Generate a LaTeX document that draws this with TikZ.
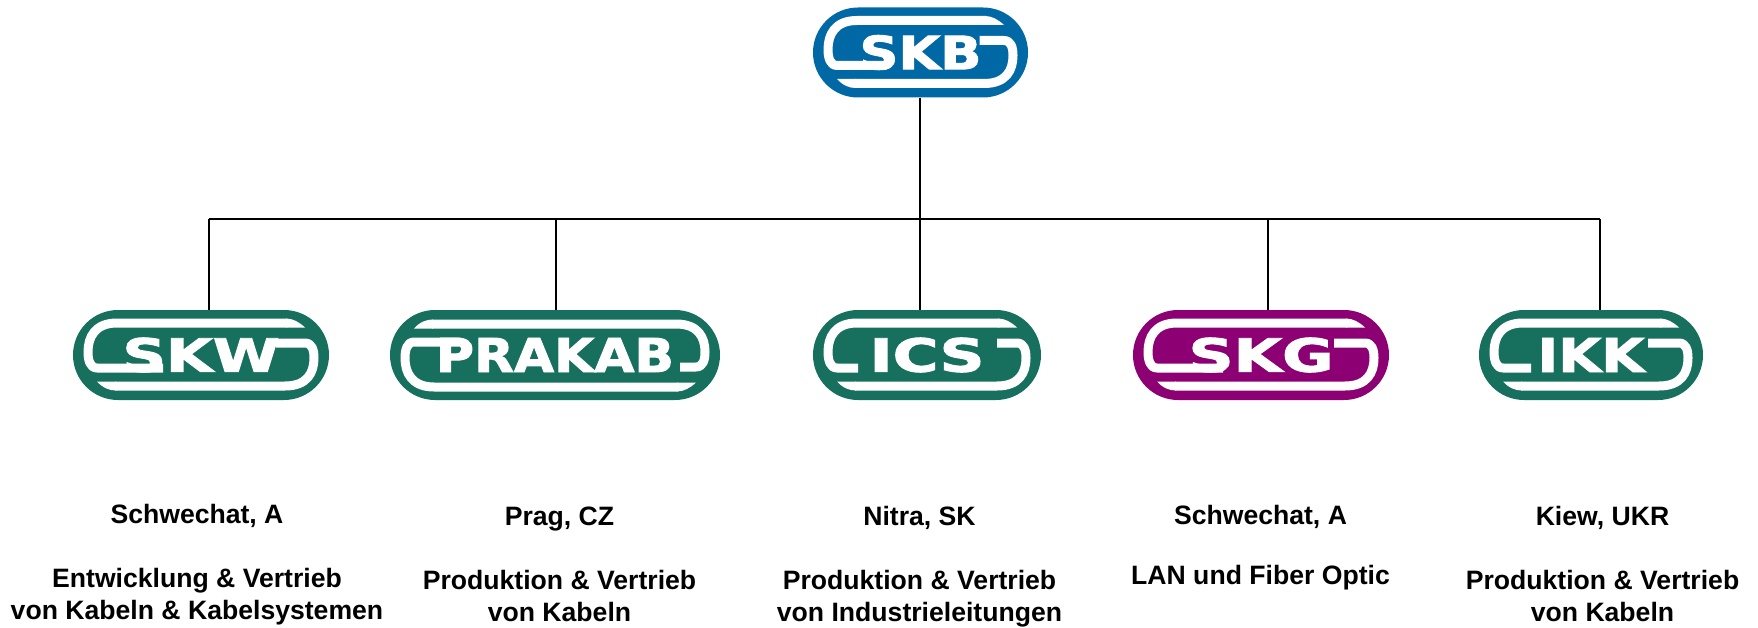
\documentclass[tikz,border=0pt]{standalone}
\usepackage{fontspec}
\setmainfont{Liberation Sans}
\newfontfamily\logofont[FakeBold=2]{DejaVu Sans Bold}
\usetikzlibrary{positioning,shapes.misc}
\definecolor{skbblue}{HTML}{0069A5}
\definecolor{skwgreen}{HTML}{16705D}
\definecolor{skgpurple}{HTML}{8C0073}
\tikzset {
    style logo/.style={
        rounded rectangle,
        draw=none,
        inner sep=0pt,
        minimum height=90pt,
        text=white,
    },
    style hook/.style={
        draw=white,
        line width=9pt,
        line join=round,
    },
    style place/.style={
        font=\fontsize{26.6}{32}\selectfont\bfseries,
        align=center,
    },
    style link/.style={
        draw=black,
        line width=2pt,
    },
}
% white letters of a logo, given width
\newcommand{\logotext}[2]{\resizebox{#1pt}{34pt}{\logofont #2}}
% the two white hooks: node, half width, left end, right end, flip
\newcommand{\logohooks}[5]{
\begin{scope}[shift={(#1.center)},yscale=#5]
\draw[style hook] ({#2-42},-32) -- ({-#2+44},-32) .. controls ({-#2+22},-32) and ({-#2+15},-18) .. ({-#2+15},-3) .. controls ({-#2+15},5) and ({-#2+17},13) .. ({-#2+24},13) -- (#3,13);
\fill[white] ({#2-43},-36.5) .. controls ({#2-36},-36.5) and ({#2-30},-33) .. ({#2-24},-27.5) -- ({#2-43},-27.5) -- cycle;
\draw[style hook] ({-#2+42},31) -- ({#2-44},31) .. controls ({#2-22},31) and ({#2-15},18) .. ({#2-15},3) .. controls ({#2-15},-5) and ({#2-17},-12) .. ({#2-24},-12) -- (#4,-12);
\fill[white] ({-#2+43},35.5) .. controls ({-#2+36},35.5) and ({-#2+30},33) .. ({-#2+24},26.5) -- ({-#2+43},26.5) -- cycle;
\end{scope}
}
\begin{document}
\begin{tikzpicture}[x=1pt,y=-1pt]
\useasboundingbox (0,0) rectangle (1758,628);

\node[style logo, fill=skbblue, minimum width=215pt] at (920.5,52.5) (skb) {\logotext{122}{SKB}};
\node[style logo, fill=skwgreen, minimum width=256pt] at (201,355) (skw) {\logotext{157}{SKW}};
\node[style logo, fill=skwgreen, minimum width=330pt] at (555,355) (prakab) {\logotext{238}{PRAKAB}};
\node[style logo, fill=skwgreen, minimum width=228pt] at (927,355) (ics) {\logotext{115}{ICS}};
\node[style logo, fill=skgpurple, minimum width=256pt] at (1261,355) (skg) {\logotext{145}{SKG}};
\node[style logo, fill=skwgreen, minimum width=224pt] at (1591,355) (ikk) {\logotext{107}{IKK}};

\logohooks{skb}{107.5}{-34}{59}{1}
\logohooks{skw}{128}{-38}{75}{1}
\logohooks{prakab}{165}{-95}{125}{-1}
\logohooks{ics}{114}{-69}{70}{1}
\logohooks{skg}{128}{-38}{73}{1}
\logohooks{ikk}{112}{-60}{57}{1}

\coordinate (bus) at (919.5,219);
\coordinate (busskw) at (208.5,219);
\coordinate (busprakab) at (556,219);
\coordinate (busskg) at (1267.5,219);
\coordinate (busikk) at (1600,219);

\draw[style link] (bus |- skb.south) -- (bus);
\draw[style link] (busskw) -- (busikk);
\draw[style link] (busskw) -- (busskw |- skw.north);
\draw[style link] (busprakab) -- (busprakab |- prakab.north);
\draw[style link] (bus) -- (bus |- ics.north);
\draw[style link] (busskg) -- (busskg |- skg.north);
\draw[style link] (busikk) -- (busikk |- ikk.north);

\node[style place] at (197,565) (tskw) {Schwechat, A\\[32pt]Entwicklung \& Vertrieb\\von Kabeln \& Kabelsystemen};
\node[style place] at (559.5,564.5) (tprakab) {Prag, CZ\\[32pt]Produktion \& Vertrieb\\von Kabeln};
\node[style place] at (919.5,567) (tics) {Nitra, SK\\[32pt]Produktion \& Vertrieb\\von Industrieleitungen};
\node[style place] at (1260.5,547.5) (tskg) {Schwechat, A\\[28pt]LAN und Fiber Optic};
\node[style place] at (1602.5,564) (tikk) {Kiew, UKR\\[32pt]Produktion \& Vertrieb\\von Kabeln};
\end{tikzpicture}
\end{document}
